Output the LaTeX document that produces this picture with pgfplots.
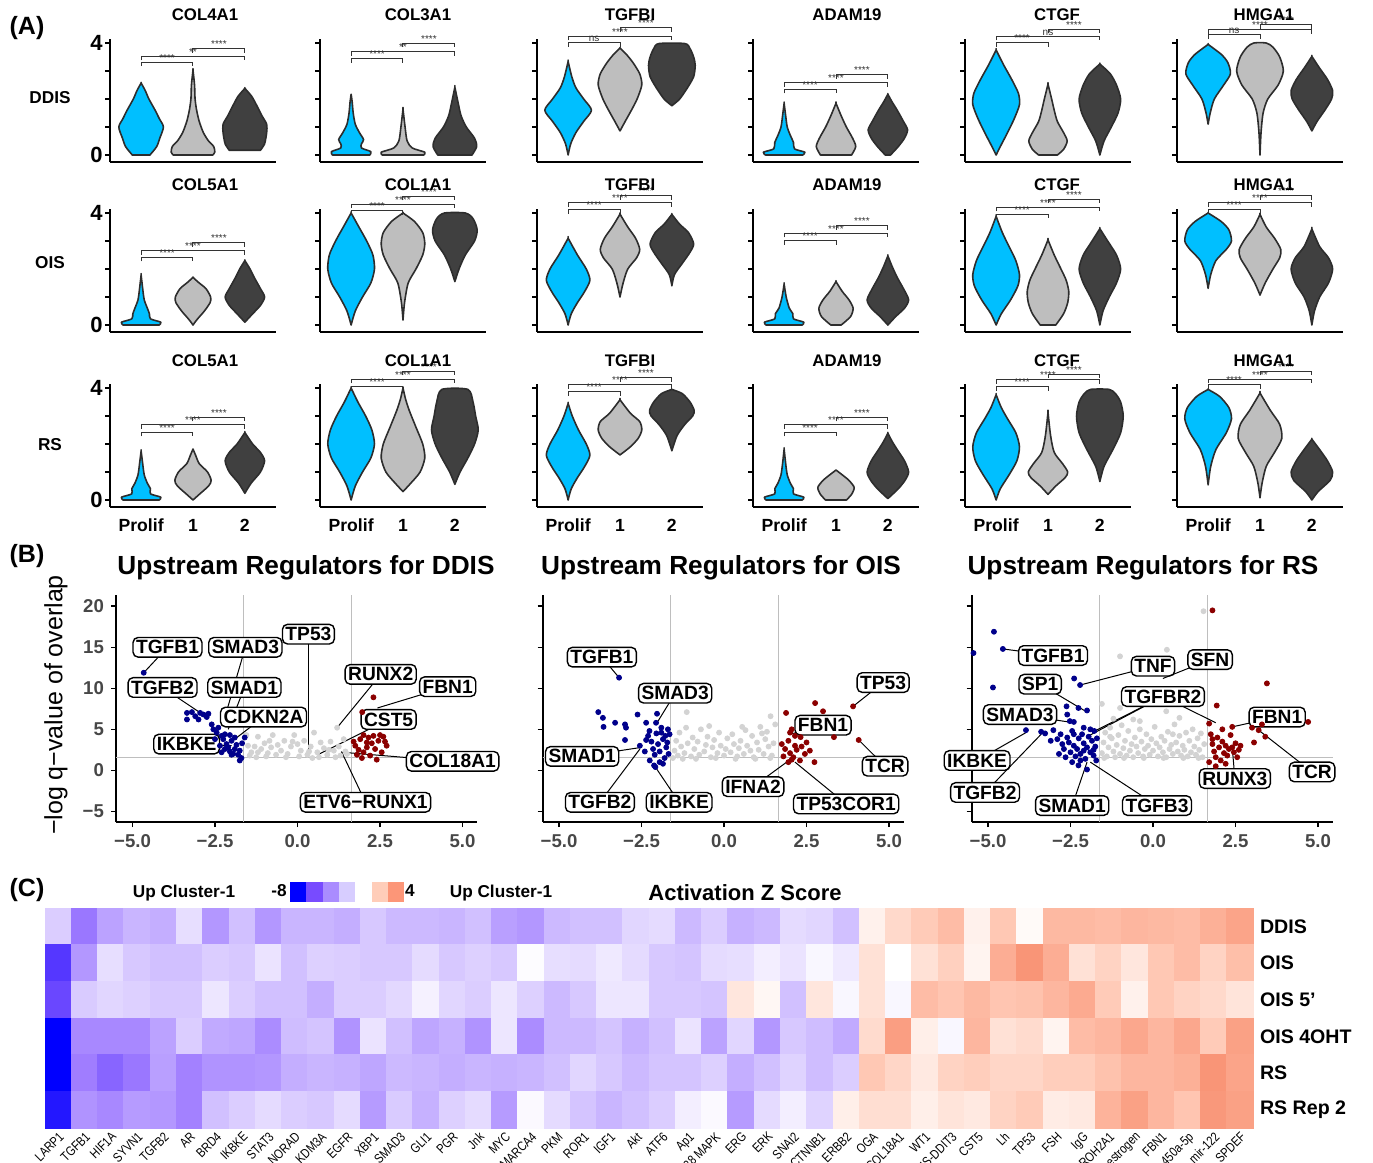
\documentclass[border=0pt]{standalone}
\usepackage{pgfplots}
\pgfplotsset{compat=1.18}
\usepackage{pgfplotstable}
\usepackage{graphicx}
\usepackage{fontspec}
\setmainfont{Liberation Sans}
\definecolor{vblue}{RGB}{0,191,255}
\definecolor{vgray}{RGB}{190,190,190}
\definecolor{vdark}{RGB}{64,64,64}
\definecolor{vline}{RGB}{45,45,45}
\definecolor{pblue}{RGB}{0,0,139}
\definecolor{pred}{RGB}{139,0,0}
\definecolor{pgrey}{RGB}{211,211,211}
\definecolor{vref}{RGB}{190,190,190}
\definecolor{lg1}{RGB}{0,0,255}
\definecolor{lg2}{RGB}{120,75,255}
\definecolor{lg3}{RGB}{170,140,255}
\definecolor{lg4}{RGB}{215,205,255}
\definecolor{lg5}{RGB}{255,205,185}
\definecolor{lg6}{RGB}{252,150,120}
\newcommand\fs[1]{\fontsize{#1}{#1}\selectfont}
\newcommand\cl[1]{\scalebox{0.82}[1]{#1}}
\tikzset{
  brk/.style={line width=0.5pt, black!80},
  brkl/.style={font=\fs{5}, inner sep=0.3pt, anchor=south, text=black!80},
  labln/.style={line width=0.5pt, black},
  labbox/.style={draw=black, line width=0.7pt, rounded corners=2.5pt, fill=white, font=\fs{9.6}\bfseries, inner xsep=1.5pt, inner ysep=1.2pt, text height=7pt, text depth=0.4pt},
}
\pgfplotsset{
  vio/.style={scale only axis, width=83pt, height=61.6pt, xmin=0.4, xmax=3.6, ymin=-0.25, ymax=4.15,
    axis x line*=bottom, axis y line*=left, axis line style={-, line width=1pt, black},
    xtick=\empty, ytick={0,1,2,3,4}, yticklabels={{},{},{},{},{}}, tick align=outside, major tick length=2.5pt,
    ytick style={line width=0.8pt, black}, clip=false, anchor=south west},
  vfirst/.style={yticklabels={0,{},{},{},4}, yticklabel style={font=\fs{11}\bfseries, inner sep=1pt}},
  vbottom/.style={xtick={1,2,3}, xticklabels={Prolif,1,2}, xtick style={draw=none}, xticklabel style={font=\fs{8.8}\bfseries}},
  volc/.style={scale only axis, width=180.7pt, height=113.6pt, xmin=-5.5, xmax=5.45, ymin=-6.3, ymax=21.4,
    axis x line*=bottom, axis y line*=left, axis line style={-, line width=1pt, black},
    xtick={-5,-2.5,0,2.5,5}, xticklabels={−5.0,−2.5,0.0,2.5,5.0}, ytick={-5,0,5,10,15,20}, yticklabels={{},{},{},{},{},{}},
    tick align=outside, major tick length=2.5pt, tick style={line width=0.8pt, black},
    ticklabel style={font=\fs{9.3}\bfseries, text=black!72}, clip=false, anchor=south west},
}
\newcommand\violin[3]{%
  \gdef\vR{}\gdef\vL{}%
  \foreach \yy/\ww in {#3}{%
    \pgfmathsetmacro\xr{#1+\ww}%
    \pgfmathsetmacro\xl{#1-\ww}%
    \xdef\vR{\vR(\xr,\yy) }%
    \xdef\vL{(\xl,\yy) \vL}%
  }%
  \edef\vtmp{\noexpand\addplot[smooth,tension=0.45,fill=#2,draw=vline,line width=0.8pt,line join=round] coordinates {\vR\vL} -- cycle;}%
  \vtmp}
\newcommand\brk[4]{%
  \pgfmathsetmacro\hlo{#3-0.15}\pgfmathsetmacro\xm{(#1+#2)/2}%
  \edef\btmp{\noexpand\draw[brk] (axis cs:#1,\hlo) -- (axis cs:#1,#3) -- (axis cs:#2,#3) -- (axis cs:#2,\hlo); \noexpand\node[brkl] at (axis cs:\xm,#3) {#4};}%
  \btmp}
\newcommand\brks[6]{\brk{1}{2}{#1}{#4}\brk{1}{3}{#2}{#5}\brk{2}{3}{#3}{#6}}
\newcommand\vlab[5]{\draw[labln] (axis cs:#3,#4) -- (axis cs:#1,#2); \node[labbox] at (axis cs:#1,#2) {#5};}

\pgfplotstableread{
z
-1.8
-4.2
-3.0
-2.5
-2.7
-1.2
-3.3
-2.2
-3.3
-2.5
-2.5
-2.7
-2.0
-2.4
-2.4
-2.5
-2.2
-3.1
-3.3
-2.4
-2.2
-2.2
-1.5
-1.3
-2.4
-1.8
-2.6
-2.4
-1.3
-1.5
-2.2
0.5
1.4
1.9
2.4
0.5
2.0
0.2
2.5
2.5
2.4
2.6
2.5
2.4
2.8
3.2
-6.3
-3.3
-1.2
-2.0
-2.2
-2.2
-1.8
-2.0
-1.0
-2.2
-1.7
-1.8
-2.0
-2.0
-1.3
-2.0
-1.7
-2.0
-0.1
-1.2
-1.3
-0.8
-1.3
-2.0
-2.1
-1.3
-1.2
-0.6
-1.0
-0.3
-0.8
1.1
0.0
1.1
1.7
0.4
2.9
3.7
2.9
1.1
1.6
0.9
2.0
2.4
1.6
2.3
-5.8
-1.9
-1.5
-1.7
-2.0
-2.0
-0.9
-1.8
-2.2
-2.2
-2.7
-1.8
-1.8
-1.4
-0.5
-1.5
-1.8
-0.9
-1.7
-2.4
-2.0
-0.9
-0.9
-2.0
-2.0
-2.1
0.9
0.3
-2.2
0.9
-0.3
1.1
-0.3
2.4
2.1
2.5
2.1
2.2
2.6
3.0
1.9
0.5
2.0
1.6
1.4
1.0
-8.0
-3.7
-3.7
-3.7
-3.0
-1.8
-2.8
-2.9
-3.6
-2.3
-2.1
-3.4
-1.0
-2.2
-2.9
-2.6
-3.4
-0.9
-3.6
-2.4
-2.4
-2.1
-2.6
-2.2
-1.0
-3.0
-1.5
-3.3
-2.0
-2.3
-2.8
1.3
3.4
0.6
-0.3
2.6
1.1
1.3
0.4
2.4
2.6
3.1
2.6
3.1
1.9
3.3
-8.0
-4.0
-4.8
-4.2
-3.1
-3.9
-3.4
-3.4
-3.3
-2.7
-2.5
-2.6
-2.9
-2.4
-2.5
-2.7
-2.5
-2.6
-2.5
-2.2
-1.5
-2.0
-2.4
-2.1
-2.1
-1.7
-2.7
-2.2
-1.6
-2.3
-1.8
2.0
1.5
0.8
1.6
1.8
1.5
1.5
1.8
1.8
2.2
2.6
2.6
2.8
3.7
3.2
-7.3
-3.4
-3.7
-3.2
-3.3
-3.9
-2.2
-1.8
-1.3
-1.8
-2.0
-1.3
-3.2
-1.9
-2.6
-1.7
-1.3
-3.2
-0.2
-1.3
-2.1
-2.5
-2.2
-1.8
-0.6
-0.2
-3.2
-1.3
-0.6
-1.6
0.6
1.2
1.2
0.6
1.0
0.8
1.6
1.9
0.7
0.8
2.7
3.3
2.6
2.1
3.6
3.3
}\hmdata

\begin{document}
\begin{tikzpicture}[x=0.5pt,y=-0.5pt]
\path[use as bounding box] (0,0) rectangle (1373,1163);

% ===================== PANEL A =====================
\begin{axis}[vio, vfirst, at={(55pt,-81pt)}]
\violin{1}{vblue}{0/0.17,0.3/0.3,0.6/0.36,1.0/0.43,1.3/0.35,1.6/0.27,2.0/0.15,2.3/0.08,2.57/0}
\violin{2}{vgray}{0/0.38,0.1/0.42,0.3/0.4,0.5/0.3,0.8/0.2,1.2/0.12,1.6/0.07,2.0/0.04,2.5/0.03,3.03/0}
\violin{3}{vdark}{0.17/0.3,0.4/0.38,0.8/0.42,1.1/0.42,1.4/0.33,1.8/0.22,2.1/0.13,2.38/0}
\brks{3.32}{3.53}{3.8}{****}{**}{****}
\end{axis}
\begin{axis}[vio, at={(160pt,-81pt)}]
\violin{1}{vblue}{0/0.36,0.12/0.38,0.25/0.2,0.4/0.2,0.55/0.24,0.8/0.16,1.1/0.08,1.5/0.04,1.9/0.02,2.17/0}
\violin{2}{vgray}{0/0.4,0.1/0.42,0.25/0.18,0.5/0.08,1.0/0.04,1.64/0}
\violin{3}{vdark}{0/0.33,0.3/0.42,0.6/0.38,1.0/0.22,1.4/0.12,1.8/0.07,2.42/0}
\brks{3.44}{3.68}{4.0}{****}{**}{****}
\end{axis}
\begin{axis}[vio, at={(268.5pt,-81pt)}]
\violin{1}{vblue}{0/0,0.4/0.05,0.8/0.15,1.2/0.3,1.6/0.45,2.0/0.3,2.4/0.15,2.8/0.07,3.34/0}
\violin{2}{vgray}{0.86/0,1.2/0.1,1.6/0.22,2.0/0.33,2.5/0.42,2.9/0.38,3.3/0.25,3.6/0.12,3.82/0}
\violin{3}{vdark}{1.76/0,2.0/0.15,2.4/0.3,2.8/0.42,3.2/0.45,3.5/0.42,3.8/0.35,3.98/0.25}
\brks{4.02}{4.24}{4.54}{ns}{****}{****}
\end{axis}
\begin{axis}[vio, at={(376.5pt,-81pt)}]
\violin{1}{vblue}{0/0.36,0.1/0.4,0.22/0.2,0.45/0.18,0.7/0.12,1.0/0.06,1.4/0.03,1.85/0}
\violin{2}{vgray}{0/0.3,0.3/0.38,0.6/0.32,1.0/0.2,1.4/0.1,1.85/0}
\violin{3}{vdark}{0/0.05,0.3/0.2,0.6/0.32,0.9/0.38,1.2/0.3,1.6/0.18,1.9/0.08,2.17/0}
\brks{2.35}{2.59}{2.87}{****}{****}{****}
\end{axis}
\begin{axis}[vio, at={(482.5pt,-81pt)}]
\violin{1}{vblue}{0/0,0.3/0.08,0.8/0.22,1.3/0.35,1.8/0.45,2.2/0.43,2.7/0.3,3.2/0.15,3.75/0}
\violin{2}{vgray}{0/0.18,0.2/0.3,0.5/0.37,0.8/0.3,1.2/0.18,1.6/0.12,2.0/0.07,2.53/0}
\violin{3}{vdark}{0/0,0.5/0.08,1.0/0.22,1.5/0.35,2.0/0.4,2.5/0.32,2.9/0.2,3.25/0}
\brks{4.02}{4.24}{4.5}{****}{ns}{****}
\end{axis}
\begin{axis}[vio, at={(588.5pt,-81pt)}]
\violin{1}{vblue}{1.1/0,1.5/0.04,2.0/0.12,2.5/0.3,2.9/0.43,3.3/0.38,3.6/0.25,3.95/0}
\violin{2}{vgray}{0/0,0.8/0.02,1.5/0.06,2.0/0.15,2.5/0.35,3.0/0.45,3.5/0.38,3.85/0.25,4.0/0.12}
\violin{3}{vdark}{0.86/0,1.2/0.1,1.6/0.25,2.0/0.38,2.3/0.4,2.7/0.3,3.1/0.15,3.52/0}
\brks{4.3}{4.48}{4.66}{ns}{****}{****}
\end{axis}
\begin{axis}[vio, vfirst, at={(55pt,-166pt)}]
\violin{1}{vblue}{0/0.35,0.1/0.38,0.22/0.18,0.4/0.16,0.6/0.12,0.9/0.06,1.3/0.03,1.79/0}
\violin{2}{vgray}{0/0,0.2/0.08,0.5/0.22,0.8/0.33,1.0/0.34,1.3/0.25,1.5/0.12,1.7/0}
\violin{3}{vdark}{0.1/0,0.4/0.15,0.7/0.3,1.0/0.38,1.3/0.3,1.7/0.18,2.0/0.1,2.3/0}
\brks{2.42}{2.65}{2.95}{****}{****}{****}
\end{axis}
\begin{axis}[vio, at={(160pt,-166pt)}]
\violin{1}{vblue}{0/0,0.5/0.08,1.0/0.22,1.5/0.38,2.0/0.45,2.5/0.42,3.0/0.3,3.5/0.15,4.0/0}
\violin{2}{vgray}{0.18/0,0.8/0.03,1.5/0.1,2.0/0.25,2.5/0.38,2.9/0.42,3.3/0.38,3.7/0.22,4.0/0}
\violin{3}{vdark}{1.55/0,2.0/0.08,2.5/0.2,3.0/0.38,3.4/0.43,3.8/0.35,4.0/0.2}
\brks{4.08}{4.32}{4.6}{****}{****}{****}
\end{axis}
\begin{axis}[vio, at={(268.5pt,-166pt)}]
\violin{1}{vblue}{0/0,0.4/0.06,0.8/0.18,1.2/0.32,1.6/0.42,2.0/0.35,2.5/0.18,3.1/0}
\violin{2}{vgray}{1.0/0,1.5/0.06,2.0/0.15,2.4/0.32,2.7/0.38,3.1/0.3,3.5/0.15,3.96/0}
\violin{3}{vdark}{1.4/0,1.8/0.05,2.2/0.2,2.6/0.35,2.9/0.42,3.3/0.32,3.6/0.15,3.95/0}
\brks{4.12}{4.36}{4.62}{****}{****}{****}
\end{axis}
\begin{axis}[vio, at={(376.5pt,-166pt)}]
\violin{1}{vblue}{0/0.35,0.1/0.38,0.22/0.18,0.4/0.17,0.6/0.1,1.0/0.04,1.46/0}
\violin{2}{vgray}{0/0.1,0.3/0.28,0.6/0.33,0.9/0.25,1.2/0.12,1.55/0}
\violin{3}{vdark}{0/0,0.3/0.15,0.6/0.32,0.9/0.4,1.3/0.3,1.7/0.18,2.1/0.08,2.47/0}
\brks{3.02}{3.28}{3.55}{****}{****}{****}
\end{axis}
\begin{axis}[vio, at={(482.5pt,-166pt)}]
\violin{1}{vblue}{0/0,0.4/0.1,0.9/0.28,1.4/0.42,1.8/0.45,2.3/0.38,2.8/0.25,3.3/0.12,3.88/0}
\violin{2}{vgray}{0/0.15,0.4/0.3,0.8/0.38,1.2/0.4,1.6/0.35,2.0/0.25,2.5/0.12,3.04/0}
\violin{3}{vdark}{0/0,0.5/0.06,1.0/0.18,1.5/0.32,2.0/0.4,2.5/0.32,3.0/0.15,3.44/0}
\brks{3.96}{4.21}{4.5}{****}{****}{****}
\end{axis}
\begin{axis}[vio, at={(588.5pt,-166pt)}]
\violin{1}{vblue}{1.31/0,1.8/0.05,2.3/0.15,2.7/0.35,3.0/0.45,3.4/0.4,3.7/0.25,4.0/0}
\violin{2}{vgray}{1.07/0,1.5/0.1,2.0/0.25,2.4/0.38,2.7/0.4,3.1/0.28,3.5/0.12,3.95/0}
\violin{3}{vdark}{0/0,0.5/0.05,1.0/0.15,1.5/0.32,2.0/0.4,2.4/0.32,2.8/0.15,3.43/0}
\brks{4.12}{4.36}{4.62}{****}{****}{****}
\end{axis}
\begin{axis}[vio, vfirst, vbottom, at={(55pt,-253.5pt)}]
\violin{1}{vblue}{0/0.35,0.1/0.38,0.22/0.18,0.4/0.18,0.6/0.12,0.9/0.06,1.3/0.03,1.75/0}
\violin{2}{vgray}{0/0,0.2/0.12,0.5/0.3,0.7/0.35,1.0/0.28,1.3/0.12,1.6/0.05,1.82/0}
\violin{3}{vdark}{0.24/0,0.6/0.12,1.0/0.3,1.4/0.38,1.7/0.3,2.0/0.15,2.41/0}
\brks{2.42}{2.69}{2.96}{****}{****}{****}
\end{axis}
\begin{axis}[vio, vbottom, at={(160pt,-253.5pt)}]
\violin{1}{vblue}{0/0,0.5/0.08,1.0/0.22,1.5/0.38,2.0/0.45,2.5/0.4,3.0/0.28,3.5/0.13,4.0/0}
\violin{2}{vgray}{0.3/0,0.6/0.15,1.0/0.33,1.5/0.42,2.0/0.38,2.6/0.25,3.2/0.12,3.6/0.05,4.0/0}
\violin{3}{vdark}{0.56/0,1.0/0.1,1.5/0.25,2.0/0.38,2.5/0.45,3.0/0.4,3.5/0.35,3.95/0.25}
\brks{4.06}{4.32}{4.6}{****}{****}{****}
\end{axis}
\begin{axis}[vio, vbottom, at={(268.5pt,-253.5pt)}]
\violin{1}{vblue}{0/0,0.4/0.06,0.8/0.18,1.2/0.32,1.6/0.42,2.0/0.35,2.5/0.2,3.0/0.08,3.45/0}
\violin{2}{vgray}{1.61/0,1.9/0.2,2.2/0.35,2.5/0.42,2.8/0.38,3.1/0.2,3.58/0}
\violin{3}{vdark}{1.76/0,2.3/0.1,2.7/0.25,3.0/0.4,3.2/0.43,3.5/0.35,3.8/0.2,3.95/0}
\brks{3.88}{4.12}{4.36}{****}{****}{****}
\end{axis}
\begin{axis}[vio, vbottom, at={(376.5pt,-253.5pt)}]
\violin{1}{vblue}{0/0.35,0.1/0.38,0.22/0.18,0.4/0.18,0.6/0.12,0.9/0.06,1.3/0.03,1.82/0}
\violin{2}{vgray}{0/0.2,0.2/0.3,0.45/0.35,0.7/0.25,0.9/0.12,1.07/0}
\violin{3}{vdark}{0.05/0,0.4/0.2,0.7/0.33,1.0/0.4,1.4/0.32,1.8/0.18,2.1/0.08,2.39/0}
\brks{2.42}{2.69}{2.96}{****}{****}{****}
\end{axis}
\begin{axis}[vio, vbottom, at={(482.5pt,-253.5pt)}]
\violin{1}{vblue}{0/0,0.4/0.08,0.9/0.25,1.4/0.4,1.9/0.45,2.4/0.38,2.9/0.22,3.3/0.1,3.76/0}
\violin{2}{vgray}{0.2/0,0.5/0.15,0.8/0.33,1.0/0.38,1.3/0.28,1.7/0.12,2.3/0.05,3.13/0}
\violin{3}{vdark}{0.66/0,1.2/0.08,1.8/0.25,2.4/0.4,3.0/0.45,3.5/0.4,3.8/0.3,3.95/0.18}
\brks{4.06}{4.3}{4.5}{****}{****}{****}
\end{axis}
\begin{axis}[vio, vbottom, at={(588.5pt,-253.5pt)}]
\violin{1}{vblue}{0.54/0,1.2/0.05,1.8/0.15,2.4/0.35,2.9/0.45,3.3/0.4,3.7/0.22,3.95/0}
\violin{2}{vgray}{0.08/0,0.6/0.04,1.2/0.12,1.7/0.28,2.2/0.42,2.7/0.38,3.2/0.2,3.82/0}
\violin{3}{vdark}{0/0,0.3/0.12,0.7/0.35,1.0/0.4,1.4/0.3,1.8/0.15,2.17/0}
\brks{4.12}{4.32}{4.6}{****}{****}{****}
\end{axis}

\foreach \ty/\ta/\tb in {15/COL4A1/COL3A1, 185/COL5A1/COL1A1, 361/COL5A1/COL1A1}{
  \node[font=\fs{8.4}\bfseries] at (205,\ty) {\ta};
  \node[font=\fs{8.4}\bfseries] at (418,\ty) {\tb};
  \node[font=\fs{8.4}\bfseries] at (630,\ty) {TGFBI};
  \node[font=\fs{8.4}\bfseries] at (847,\ty) {ADAM19};
  \node[font=\fs{8.4}\bfseries] at (1057,\ty) {CTGF};
  \node[font=\fs{8.4}\bfseries] at (1264,\ty) {HMGA1};
}
\node[font=\fs{8.6}\bfseries] at (50,98) {DDIS};
\node[font=\fs{8.6}\bfseries] at (50,263) {OIS};
\node[font=\fs{8.6}\bfseries] at (50,445) {RS};
\node[font=\fs{12.5}\bfseries] at (27,28) {(A)};
\node[font=\fs{12.5}\bfseries] at (27,556) {(B)};
\node[font=\fs{12.5}\bfseries] at (27,890) {(C)};

% ===================== PANEL B =====================
\begin{axis}[volc, at={(58pt,-411pt)}, yticklabels={−5,0,5,10,15,20}]
\addplot[vref] coordinates {(-1.64,-6.3) (-1.64,21.4)};
\addplot[vref] coordinates {(1.64,-6.3) (1.64,21.4)};
\addplot[vref] coordinates {(-5.5,1.6) (5.45,1.6)};
\addplot[only marks, mark=*, mark size=1.25pt, color=pgrey] coordinates {
(-1.5,3.0) (-1.4,2.2) (-1.3,2.9) (-1.2,4.1) (-1.1,2.6) (-1.0,3.3) (-0.9,2.1) (-0.8,2.8) (-0.75,4.3) (-0.6,3.1) (-0.5,2.4) (-0.4,3.6) (-0.3,2.0) (-0.2,2.9) (-0.1,4.3) (0.0,3.2) (0.1,2.4) (0.2,3.6) (0.3,1.9) (0.4,2.9) (0.5,4.6) (0.6,2.2) (0.7,3.4) (0.8,2.7) (0.9,1.9) (1.0,3.5) (1.1,2.4) (1.2,5.2) (1.25,2.9) (1.3,1.8) (1.4,3.8) (1.45,2.3) (1.5,2.0) (-1.45,1.8) (-1.25,1.6) (-0.95,1.7) (-0.65,1.9) (-0.35,1.6) (0.05,1.7) (0.35,2.3) (0.65,1.6) (0.95,2.5) (-1.55,4.3) (-0.85,3.6) (-0.15,3.5) (0.45,1.5) (1.15,1.6) (-1.2,2.2)};
\addplot[only marks, mark=*, mark size=1.25pt, color=pblue] coordinates {
(-4.66,11.9) (-3.35,7.0) (-3.2,7.1) (-3.1,6.6) (-3.35,6.2) (-2.95,7.0) (-2.85,6.8) (-2.75,6.5) (-2.7,6.9) (-3.0,6.2) (-2.6,5.6) (-2.55,5.0) (-2.45,4.6) (-2.4,5.2) (-2.3,4.2) (-2.25,3.8) (-2.2,4.4) (-2.15,3.2) (-2.1,2.8) (-2.05,2.3) (-2.0,3.6) (-1.95,2.0) (-1.9,2.6) (-1.85,3.1) (-1.8,1.9) (-1.75,2.4) (-1.7,1.5) (-1.68,3.3) (-2.3,2.2) (-2.2,2.6) (-2.0,1.9) (-1.9,4.0) (-2.35,3.0) (-1.75,1.2) (-2.05,4.3) (-2.5,3.8) (-1.6,4.0)};
\addplot[only marks, mark=*, mark size=1.25pt, color=pred] coordinates {
(2.3,8.9) (1.96,7.1) (2.0,4.3) (2.1,3.4) (1.75,3.0) (1.85,2.5) (1.9,3.8) (2.0,2.2) (2.1,2.8) (2.2,1.8) (2.25,3.3) (2.3,4.2) (2.35,2.6) (2.4,1.3) (2.45,3.6) (2.5,4.3) (2.55,2.2) (2.6,4.1) (2.7,3.0) (1.8,1.9) (1.95,1.5) (2.15,4.0) (2.65,3.5) (1.7,3.5)};
\vlab{-3.94}{15.0}{-4.66}{11.9}{TGFB1}
\vlab{-1.58}{15.0}{-2.2}{6.5}{SMAD3}
\vlab{-4.09}{10.1}{-2.94}{7.0}{TGFB2}
\vlab{-1.61}{10.1}{-2.1}{5.0}{SMAD1}
\vlab{-1.03}{6.5}{-2.0}{3.5}{CDKN2A}
\vlab{-3.36}{3.2}{-2.0}{3.0}{IKBKE}
\vlab{0.33}{16.6}{0.33}{1.7}{TP53}
\vlab{2.52}{11.7}{1.24}{5.4}{RUNX2}
\vlab{4.55}{10.2}{2.42}{7.6}{FBN1}
\vlab{2.76}{6.2}{0.64}{1.95}{CST5}
\vlab{4.7}{1.1}{1.36}{2.2}{COL18A1}
\vlab{2.06}{-3.9}{1.33}{2.3}{ETV6−RUNX1}
\end{axis}

\begin{axis}[volc, at={(271.25pt,-411pt)}]
\addplot[vref] coordinates {(-1.64,-6.3) (-1.64,21.4)};
\addplot[vref] coordinates {(1.64,-6.3) (1.64,21.4)};
\addplot[vref] coordinates {(-5.5,1.6) (5.45,1.6)};
\addplot[only marks, mark=*, mark size=1.25pt, color=pgrey] coordinates {
(-1.13,7.1) (1.41,6.6) (-1.5,2.4) (-1.45,3.6) (-1.4,1.8) (-1.35,4.6) (-1.3,2.9) (-1.2,2.1) (-1.15,5.2) (-1.1,3.3) (-1.0,1.7) (-0.95,4.0) (-0.9,2.6) (-0.8,3.5) (-0.75,1.9) (-0.7,5.0) (-0.6,2.3) (-0.55,3.1) (-0.5,4.1) (-0.4,1.6) (-0.35,2.8) (-0.3,3.7) (-0.2,2.1) (-0.15,4.6) (-0.1,3.0) (0.0,1.8) (0.05,2.6) (0.1,3.9) (0.2,2.2) (0.25,4.4) (0.3,3.2) (0.4,1.7) (0.45,2.7) (0.5,3.6) (0.6,2.0) (0.65,4.9) (0.7,3.0) (0.8,2.4) (0.85,4.2) (0.9,1.6) (1.0,3.4) (1.05,2.5) (1.1,5.3) (1.2,2.0) (1.25,3.8) (1.3,4.7) (1.35,2.9) (1.45,1.8) (1.5,3.3) (1.55,5.6) (-1.55,1.5) (-0.85,1.4) (-0.25,1.5) (0.35,1.4) (0.95,1.4) (1.4,1.5) (-1.25,1.4) (0.55,5.3) (-0.45,5.4) (1.15,4.5)};
\addplot[only marks, mark=*, mark size=1.25pt, color=pblue] coordinates {
(-3.18,11.3) (-3.81,7.1) (-3.67,6.4) (-3.65,5.3) (-3.3,5.8) (-3.0,5.6) (-2.97,5.2) (-2.62,6.8) (-3.0,3.7) (-2.36,5.8) (-2.26,4.8) (-2.06,5.8) (-2.03,6.9) (-2.55,3.0) (-2.36,3.7) (-2.3,4.2) (-2.2,3.5) (-2.15,2.6) (-2.1,1.9) (-2.05,4.5) (-2.0,3.2) (-1.95,2.3) (-1.9,5.2) (-1.85,3.8) (-1.8,1.5) (-1.78,4.2) (-1.75,2.8) (-1.72,3.4) (-1.7,5.0) (-1.68,2.0) (-2.25,1.2) (-2.12,0.6) (-1.95,1.0) (-1.85,0.8) (-2.4,2.3) (-1.9,4.6) (-2.08,0.4) (-1.65,4.4)};
\addplot[only marks, mark=*, mark size=1.25pt, color=pred] coordinates {
(1.88,7.0) (2.76,8.2) (3.0,7.2) (3.91,7.8) (4.08,3.7) (3.33,4.05) (2.32,4.05) (2.0,4.6) (1.75,3.2) (1.85,2.6) (1.95,3.6) (2.0,2.1) (2.1,1.6) (2.15,3.0) (2.2,2.5) (2.3,1.2) (2.35,2.9) (2.45,2.0) (2.5,3.4) (1.8,1.7) (1.95,1.0) (2.05,1.3) (2.74,1.0) (2.6,2.4) (2.15,4.2) (2.05,5.0)};
\vlab{-3.7}{13.8}{-3.18}{11.3}{TGFB1}
\vlab{-1.48}{9.4}{-2.03}{5.8}{SMAD3}
\vlab{-4.3}{1.7}{-2.5}{2.8}{SMAD1}
\vlab{-3.76}{-3.9}{-2.55}{2.6}{TGFB2}
\vlab{-1.36}{-3.9}{-2.08}{0.4}{IKBKE}
\vlab{4.82}{10.7}{3.91}{7.8}{TP53}
\vlab{3.0}{5.5}{2.0}{4.4}{FBN1}
\vlab{4.88}{0.5}{4.08}{3.7}{TCR}
\vlab{0.88}{-2.0}{2.0}{1.3}{IFNA2}
\vlab{3.7}{-4.1}{2.15}{1.0}{TP53COR1}
\end{axis}

\begin{axis}[volc, at={(485.75pt,-411pt)}]
\addplot[vref] coordinates {(-1.64,-6.3) (-1.64,21.4)};
\addplot[vref] coordinates {(1.64,-6.3) (1.64,21.4)};
\addplot[vref] coordinates {(-5.5,1.6) (5.45,1.6)};
\addplot[only marks, mark=*, mark size=1.25pt, color=pgrey] coordinates {
(-1.0,13.9) (0.42,14.7) (1.53,19.4) (-1.0,7.6) (-1.55,8.1) (-1.2,6.3) (0.4,7.2) (0.8,6.4) (-0.4,6.0)
(-1.55,2.1) (-1.5,3.4) (-1.45,4.6) (-1.4,1.7) (-1.35,2.8) (-1.3,5.2) (-1.25,3.9) (-1.2,2.3) (-1.15,1.6) (-1.1,3.1) (-1.05,4.3) (-1.0,2.0) (-0.95,5.5) (-0.9,2.7) (-0.85,3.6) (-0.8,1.8) (-0.75,4.8) (-0.7,2.4) (-0.65,3.2) (-0.6,1.6) (-0.55,4.0) (-0.5,2.9) (-0.45,2.1) (-0.4,5.0) (-0.35,3.5) (-0.3,1.7) (-0.25,2.6) (-0.2,4.4) (-0.15,3.0) (-0.1,1.9) (-0.05,3.8) (0.0,2.4) (0.05,5.3) (0.1,3.3) (0.15,1.7) (0.2,2.8) (0.25,4.1) (0.3,2.2) (0.35,3.6) (0.4,1.6) (0.45,4.7) (0.5,2.6) (0.55,3.1) (0.6,2.0) (0.65,5.6) (0.7,3.4) (0.75,2.3) (0.8,4.2) (0.85,1.8) (0.9,3.0) (0.95,2.5) (1.0,4.6) (1.05,1.7) (1.1,3.6) (1.15,2.2) (1.2,5.0) (1.25,2.9) (1.3,1.9) (1.35,3.9) (1.4,2.5) (1.45,4.5) (1.5,1.6) (1.55,3.2) (-1.48,1.5) (-0.88,1.5) (-0.28,1.5) (0.32,1.5) (0.92,1.5) (1.38,1.5) (-1.3,4.1) (0.6,4.4) (-0.6,6.2)};
\addplot[only marks, mark=*, mark size=1.25pt, color=pblue] coordinates {
(-5.44,14.3) (-4.82,16.9) (-4.55,14.8) (-4.85,10.1) (-2.39,11.2) (-2.21,10.4) (-2.62,7.8) (-2.26,7.6) (-2.0,7.3) (-2.6,6.8) (-2.52,6.0) (-2.4,5.9) (-3.85,4.9) (-3.39,4.7) (-3.27,4.5) (-3.02,4.9) (-2.9,3.8) (-2.8,4.4) (-2.75,3.2) (-2.7,2.6) (-2.6,4.0) (-2.55,3.4) (-2.5,2.2) (-2.45,4.8) (-2.4,3.0) (-2.35,1.7) (-2.3,2.6) (-2.25,3.9) (-2.2,2.0) (-2.15,4.4) (-2.1,3.3) (-2.05,1.4) (-2.0,2.8) (-1.95,4.1) (-1.9,2.2) (-1.85,3.6) (-1.8,1.8) (-1.78,4.8) (-1.75,2.9) (-1.72,1.2) (-1.7,3.9) (-2.0,0.1) (-2.26,0.6) (-2.45,1.0) (-2.1,5.2) (-1.9,5.0) (-2.65,1.6) (-3.1,3.6) (-2.85,2.0) (-2.2,1.2) (-1.8,2.5) (-2.4,4.4) (-2.1,2.4)};
\addplot[only marks, mark=*, mark size=1.25pt, color=pred] coordinates {
(1.8,19.5) (3.45,10.6) (1.93,7.9) (2.4,5.3) (4.7,5.9) (3.4,4.1) (3.06,3.4) (3.2,4.9) (3.3,5.6) (3.0,5.2) (1.7,5.7) (1.75,4.4) (1.8,3.2) (1.85,2.3) (1.9,1.6) (1.95,4.0) (2.0,2.8) (2.05,1.2) (2.1,3.5) (2.15,2.1) (2.2,3.0) (2.25,1.8) (2.3,2.6) (2.35,4.3) (2.4,2.8) (2.45,2.2) (2.5,3.3) (2.55,1.6) (2.6,2.5) (1.7,1.0) (1.9,0.5) (2.2,0.8) (2.65,3.0) (1.8,3.8) (2.1,5.0)};
\draw[labln] (axis cs:-2.0,4.1) -- (axis cs:0.3,9.0);
\draw[labln] (axis cs:-1.76,4.8) -- (axis cs:0.3,9.0);
\draw[labln] (axis cs:1.9,5.8) -- (axis cs:0.3,9.0);
\vlab{-3.03}{14.0}{-4.55}{14.8}{TGFB1}
\vlab{0}{12.7}{-2.21}{10.4}{TNF}
\vlab{1.73}{13.5}{0.3}{11.2}{SFN}
\vlab{-3.42}{10.5}{-2.0}{7.1}{SP1}
\vlab{0.3}{9.0}{0.3}{9.0}{TGFBR2}
\vlab{-4.03}{6.8}{-2.4}{5.8}{SMAD3}
\vlab{-5.33}{1.2}{-3.85}{4.6}{IKBKE}
\vlab{-5.09}{-2.7}{-3.39}{4.4}{TGFB2}
\vlab{-2.45}{-4.3}{-2.0}{1.0}{SMAD1}
\vlab{0.12}{-4.3}{-1.9}{1.0}{TGFB3}
\vlab{3.76}{6.5}{2.4}{5.3}{FBN1}
\vlab{2.48}{-1.0}{2.4}{2.8}{RUNX3}
\vlab{4.82}{-0.2}{3.2}{4.9}{TCR}
\end{axis}

\node[font=\fs{13.1}\bfseries] at (306,568) {Upstream Regulators for DDIS};
\node[font=\fs{13.1}\bfseries] at (721,568) {Upstream Regulators for OIS};
\node[font=\fs{13.1}\bfseries] at (1143,568) {Upstream Regulators for RS};
\node[font=\fs{12.5}, rotate=90] at (56,705) {−log q−value of overlap};

% ===================== PANEL C =====================
\begin{axis}[scale only axis, width=604pt, height=110pt, at={(22.5pt,-564pt)}, anchor=south west,
  xmin=-0.5, xmax=45.5, ymin=-0.5, ymax=5.5, axis line style={draw=none}, major tick length=0pt,
  tick style={draw=none},
  xtick={0,...,45},
  xticklabels={\cl{LARP1},\cl{TGFB1},\cl{HIF1A},\cl{SYVN1},\cl{TGFB2},\cl{AR},\cl{BRD4},\cl{IKBKE},\cl{STAT3},\cl{NORAD},\cl{KDM3A},\cl{EGFR},\cl{XBP1},\cl{SMAD3},\cl{GLI1},\cl{PGR},\cl{Jnk},\cl{MYC},\cl{SMARCA4},\cl{PKM},\cl{ROR1},\cl{IGF1},\cl{Akt},\cl{ATF6},\cl{Ap1},\cl{P38 MAPK},\cl{ERG},\cl{ERK},\cl{SNAI2},\cl{CTNNB1},\cl{ERBB2},\cl{OGA},\cl{COL18A1},\cl{WT1},\cl{FUS-DDIT3},\cl{CST5},\cl{Lh},\cl{TP53},\cl{FSH},\cl{IgG},\cl{MACROH2A1},\cl{estrogen},\cl{FBN1},\cl{miR-450a-5p},\cl{mir-122},\cl{SPDEF}},
  xticklabel style={rotate=45, anchor=north east, font=\fs{6.6}, inner sep=1pt},
  ytick={0,...,5}, yticklabels={RS Rep 2,RS,OIS 4OHT,OIS 5’,OIS,DDIS},
  yticklabel pos=right, yticklabel style={font=\fs{9.8}\bfseries, anchor=west},
  colormap={hm}{rgb255(0cm)=(0,0,255); rgb255(2cm)=(100,65,255); rgb255(4cm)=(160,125,255); rgb255(6cm)=(215,200,255); rgb255(8cm)=(255,255,255); rgb255(10cm)=(255,200,180); rgb255(12cm)=(248,140,108)},
  point meta min=-8, point meta max=4]
\addplot[scatter, only marks, mark=square*, mark size=6.565pt,
  scatter/use mapped color={draw=mapped color, fill=mapped color},
  mark options={yscale=1.396, line width=0.3pt}, point meta=explicit]
  table[x index=0, y index=0, x expr={mod(\coordindex,46)}, y expr={5-floor((\coordindex+0.5)/46)}, meta index=0]{\hmdata};
\end{axis}

\node[font=\fs{8.6}\bfseries] at (184,893) {Up Cluster-1};
\node[font=\fs{8.6}\bfseries] at (279,891) {-8};
\fill[lg1] (290,882) rectangle (306.25,902);
\fill[lg2] (306.25,882) rectangle (322.5,902);
\fill[lg3] (322.5,882) rectangle (338.75,902);
\fill[lg4] (338.75,882) rectangle (355,902);
\fill[lg5] (372,882) rectangle (388,902);
\fill[lg6] (388,882) rectangle (404,902);
\node[font=\fs{8.6}\bfseries] at (410,891) {4};
\node[font=\fs{8.6}\bfseries] at (501,893) {Up Cluster-1};
\node[font=\fs{11}\bfseries] at (745,893) {Activation Z Score};
\end{tikzpicture}
\end{document}
